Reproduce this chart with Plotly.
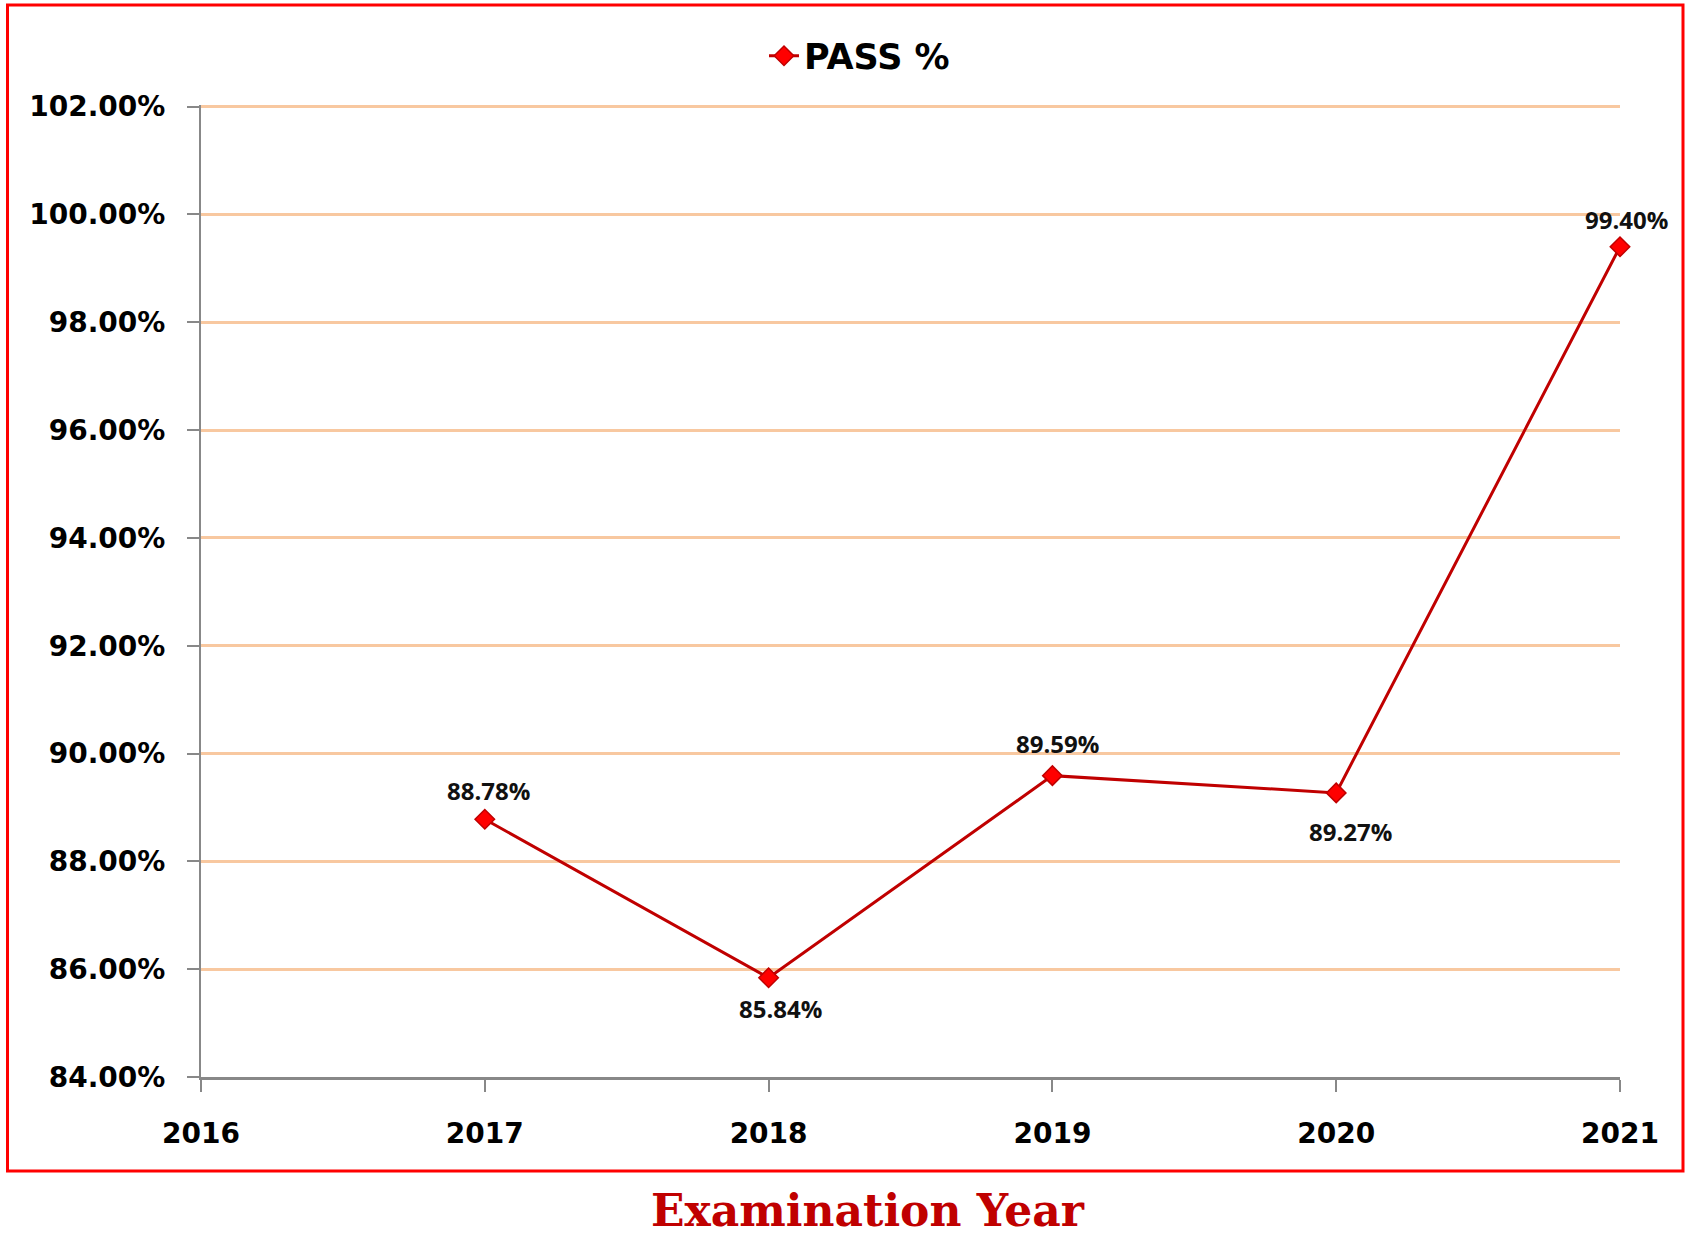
import plotly.graph_objects as go

years = [2017, 2018, 2019, 2020, 2021]
pass_pct = [88.78, 85.84, 89.59, 89.27, 99.40]
label_dx = [4, 12, 5, 14, 6]
label_dy = [29, -31, 32, -39, 27]
x_ticks = [2016, 2017, 2018, 2019, 2020, 2021]
y_ticks = [84, 86, 88, 90, 92, 94, 96, 98, 100, 102]

W, H = 1692, 1239
L, R, T, B = 201, 72, 105, 162
pw, ph = W - L - R, H - T - B

def px(x):
    return (x - L) / pw

def py(y):
    return (H - B - y) / ph

fig = go.Figure()
fig.add_trace(go.Scatter(
    x=years, y=pass_pct, mode="lines+markers", name="PASS %",
    line=dict(color="#C00000", width=3),
    marker=dict(symbol="diamond", size=15, color="#FF0000", line=dict(color="#C00000", width=1.5)),
    cliponaxis=False,
))

annotations = []
for x, y, dx, dy in zip(years, pass_pct, label_dx, label_dy):
    annotations.append(dict(x=x, y=y, xref="x", yref="y", text=f"{y:.2f}%", showarrow=False,
                            xshift=dx, yshift=dy, xanchor="center", yanchor="middle",
                            font=dict(family="Open Sans", size=24, color="#111111", weight="bold")))
annotations.append(dict(text="Examination Year", xref="paper", yref="paper",
                        x=px(868), y=py(1210), xanchor="center", yanchor="middle", showarrow=False,
                        font=dict(family="DejaVu Serif", size=44, color="#C00000", weight="bold")))

tick_font = dict(family="DejaVu Sans", size=28, color="black", weight="bold")

fig.update_layout(
    width=W, height=H, paper_bgcolor="white", plot_bgcolor="white",
    margin=dict(l=L, r=R, t=T, b=B),
    showlegend=True,
    legend=dict(orientation="h", x=px(764), xanchor="left", y=py(56), yanchor="middle",
                font=dict(family="DejaVu Sans", size=35, color="black", weight="bold"),
                bgcolor="rgba(0,0,0,0)"),
    xaxis=dict(range=[2016, 2021], tickvals=x_ticks, ticktext=[str(v) for v in x_ticks],
               showgrid=False, zeroline=False, showline=True, linecolor="#888888", linewidth=3,
               ticks="outside", ticklen=12, tickwidth=2, tickcolor="#888888",
               ticklabelstandoff=17, tickfont=tick_font),
    yaxis=dict(range=[84, 102.03], tickvals=y_ticks, ticktext=[f"{v:.2f}%" for v in y_ticks],
               showgrid=True, gridcolor="#F8C8A0", gridwidth=3, zeroline=False,
               showline=True, linecolor="#888888", linewidth=2,
               ticks="outside", ticklen=12, tickwidth=2, tickcolor="#888888",
               ticklabelstandoff=16, tickfont=tick_font),
    shapes=[dict(type="rect", xref="paper", yref="paper",
                 x0=px(7.5), x1=px(1683), y0=py(1171), y1=py(5),
                 line=dict(color="#FF0000", width=3), fillcolor="rgba(0,0,0,0)", layer="below")],
    annotations=annotations,
)

fig.write_html("out.html")
